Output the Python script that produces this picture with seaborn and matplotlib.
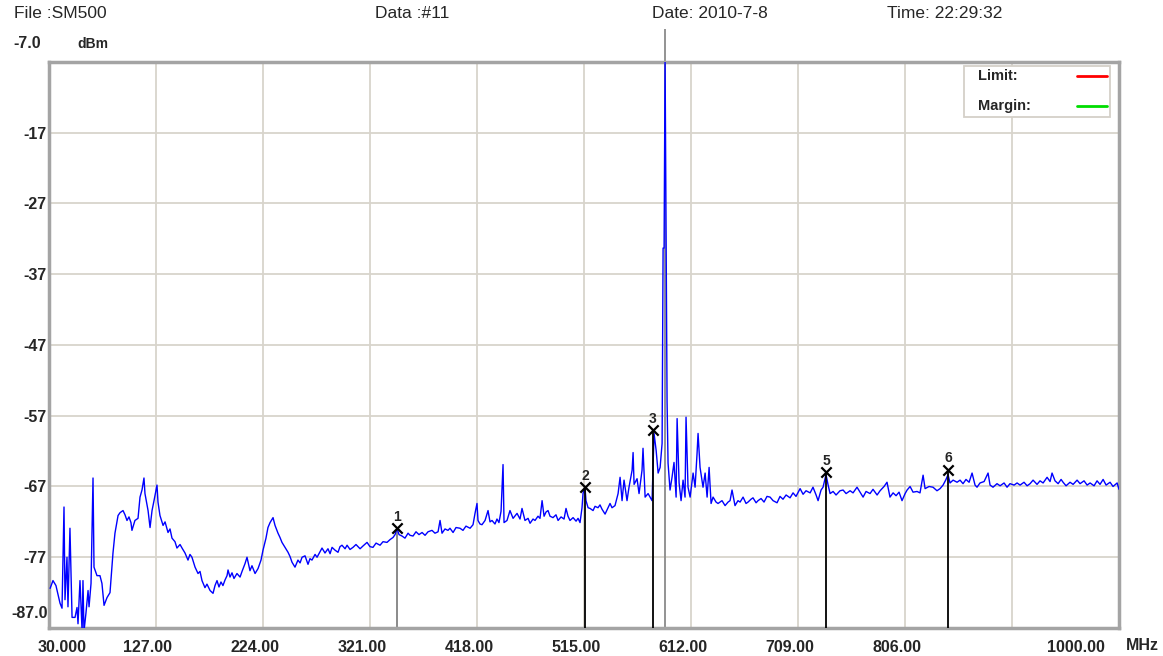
import matplotlib
matplotlib.use("Agg")
import matplotlib.pyplot as plt
import matplotlib.transforms as mtransforms
from matplotlib.lines import Line2D
from matplotlib.patches import Rectangle
import seaborn as sns
import pandas as pd

# spectrum trace (MHz, dBm)
freq_mhz = [
    31.0, 33.6, 36.3, 40.0, 41.8, 42.7, 43.6, 44.5, 46.3, 47.2, 49.0, 50.9, 53.6, 55.4, 56.3, 58.1,
    60.0, 60.8, 61.7, 63.5, 65.4, 66.3, 68.1, 69.0, 69.9, 70.8, 73.5, 76.2, 78.0, 79.9, 82.6, 85.3,
    87.1, 88.0, 89.8, 92.6, 94.4, 97.1, 98.9, 100.7, 102.5, 104.3, 105.2, 107.9, 110.7, 112.5, 114.3,
    116.1, 117.0, 119.8, 121.6, 123.4, 125.2, 127.9, 128.8, 130.6,
    133.4, 135.2, 137.9, 139.7, 141.5, 144.2, 146.0, 148.8, 150.6, 153.3, 156.0, 157.8, 159.6, 162.4,
    165.1, 166.9, 168.7, 171.4, 173.2, 176.0, 178.7, 180.5, 182.3, 184.1, 185.9, 187.7, 189.6, 191.4,
    192.3, 194.1, 195.9, 197.7, 200.4, 203.2, 205.0, 207.7, 209.5, 212.2, 214.0, 216.8, 219.5, 222.2,
    224.0, 226.7, 228.5, 230.4, 233.1, 234.9, 237.6, 239.4, 241.2, 244.0, 246.7, 248.5, 250.3, 253.0,
    255.7, 257.6, 259.4, 262.1, 264.8, 266.6, 268.4, 271.2, 273.0, 275.7, 277.5, 280.2, 282.9, 284.8,
    286.6, 289.3, 292.0, 293.8, 295.6, 298.4,
    300.2, 302.9, 305.6, 308.3, 312.0, 314.7, 318.3, 321.0, 323.7, 326.5, 330.1, 332.8, 336.4, 339.2,
    341.9, 343.7, 345.5, 347.3, 350.0, 352.7, 355.5, 357.3, 360.0, 362.7, 365.4, 368.2, 370.9, 373.6,
    377.2, 379.9, 382.7, 384.5, 386.3, 389.0, 391.7, 393.5, 396.3, 399.0, 402.6, 405.3, 408.0, 411.7,
    414.4, 416.2, 418.0, 418.9, 420.7, 422.5, 425.3, 428.0, 429.8, 431.6, 434.3, 436.1, 437.9, 439.8,
    441.6, 442.5, 445.2, 447.9, 450.7, 454.3, 457.0, 458.8, 461.5, 464.3, 466.1, 468.8, 470.6, 473.3,
    475.1, 477.0, 478.8, 480.6, 482.4, 484.2, 486.9, 489.6, 491.5, 494.2, 496.9, 498.7, 500.5, 502.3,
    505.1, 507.8, 509.6, 511.4, 513.2, 514.1, 515.9, 516.8, 518.7, 520.5, 523.2, 525.0, 527.7, 529.5,
    531.3, 534.1, 536.8, 538.6, 540.4, 543.1, 545.9, 547.7, 549.5, 551.3, 554.0, 555.8, 558.6, 559.5,
    560.4, 563.1, 564.9, 567.6, 568.5, 570.4, 573.1, 574.9, 576.7, 577.6, 578.5, 580.4, 582.2, 584.0,
    585.8, 586.7, 587.6, 588.5, 589.4, 590.3, 591.2, 593.0, 594.8, 596.6, 598.5, 599.4, 601.2, 603.0,
    604.8, 606.6, 607.5, 609.3, 611.2, 613.9, 615.7, 617.5, 618.4, 620.2, 622.9, 624.8, 626.6, 628.4,
    630.2, 632.0, 634.7, 636.5, 640.1, 642.9, 645.6, 647.4, 649.2, 651.9, 654.6, 656.5, 659.2, 661.9,
    663.7, 666.4, 668.2, 671.0, 672.8, 675.5, 678.2, 680.9, 683.7, 686.4, 690.0, 692.7, 695.4, 698.2,
    701.8, 704.5, 707.2, 710.9, 713.6, 716.3, 720.0, 722.6, 725.4, 727.2, 729.9, 731.7, 734.4, 736.3,
    738.1, 740.8, 743.5, 747.1, 749.9, 752.6, 756.2, 758.9, 762.5, 765.3, 768.0, 770.7, 774.3, 777.0,
    780.7, 783.4, 787.0, 789.7, 792.4, 795.2, 797.9, 800.6, 803.3, 806.1, 807.9, 810.6, 813.3, 816.9,
    819.6, 822.4, 824.2, 827.8, 831.4, 835.0, 837.8, 840.5, 843.2, 845.0, 846.8, 849.6, 853.2, 855.9,
    858.6, 861.3, 864.1, 866.8, 869.5, 871.3, 874.0, 877.7, 881.3, 883.1, 885.8, 889.4, 892.2, 895.8,
    898.5, 901.2, 904.9, 907.6, 910.3, 913.9, 916.7, 919.4, 922.1, 925.7, 928.4, 931.2, 934.8, 937.5,
    939.3, 942.0, 944.8, 947.5, 949.3, 952.0, 955.6, 958.4, 962.0, 964.7, 968.3, 971.1, 973.8, 977.4,
    980.1, 982.8, 985.6, 988.3, 991.9, 994.6, 998.3, 1000.0,
]
level_dbm = [
    -81.4, -80.3, -81.0, -83.5, -84.2, -76.7, -69.9, -83.0, -77.0, -84.0, -72.9, -85.5, -85.5, -84.1, -86.4, -80.3,
    -87.5, -80.3, -87.5, -84.9, -81.7, -84.0, -80.7, -73.5, -65.8, -78.4, -79.6, -79.6, -80.7, -83.8, -82.7, -82.0,
    -78.4, -76.4, -73.6, -71.1, -70.7, -70.4, -71.0, -71.8, -71.3, -72.1, -73.2, -71.8, -71.5, -68.5, -67.5,
    -65.8, -68.0, -70.4, -72.8, -70.4, -69.0, -66.8, -69.2, -71.1,
    -72.5, -72.0, -73.5, -73.0, -74.3, -74.8, -75.7, -75.2, -75.7, -76.4, -77.4, -76.6, -77.0, -78.4,
    -79.3, -79.0, -80.3, -81.3, -80.8, -81.7, -82.1, -81.0, -80.3, -81.2, -80.5, -81.0, -80.2, -79.6,
    -78.8, -79.8, -79.2, -80.0, -79.3, -79.8, -79.0, -77.9, -77.0, -78.9, -78.2, -79.3, -78.6, -77.4,
    -76.0, -74.3, -72.8, -72.1, -71.4, -72.5, -73.6, -74.2, -74.9, -75.6, -76.3, -76.9, -77.7, -78.4,
    -77.4, -77.8, -77.0, -76.8, -78.0, -77.2, -77.4, -76.6, -77.0, -76.2, -75.7, -76.4, -75.8, -76.5,
    -75.6, -76.0, -76.3, -75.5, -75.3, -75.8,
    -75.3, -75.9, -75.6, -75.2, -75.8, -75.4, -74.9, -75.5, -75.6, -75.0, -75.3, -74.8, -74.9, -74.5,
    -74.2, -73.8, -72.9, -73.8, -74.0, -74.3, -73.6, -73.9, -74.0, -73.4, -73.8, -73.5, -73.9, -73.4,
    -73.2, -73.6, -73.4, -71.8, -73.6, -73.0, -73.2, -72.9, -73.5, -72.8, -72.9, -73.2, -72.6, -72.9,
    -72.4, -70.8, -69.4, -71.8, -72.3, -72.4, -71.8, -70.4, -72.0, -71.8, -72.3, -71.6, -72.1, -70.5,
    -63.9, -72.1, -71.8, -70.4, -71.5, -70.8, -71.6, -70.1, -71.8, -71.5, -72.2, -71.6, -71.8, -71.2,
    -71.5, -69.0, -71.2, -70.6, -70.4, -71.2, -71.4, -71.0, -71.8, -71.3, -71.6, -70.1, -71.2, -71.8,
    -71.4, -71.9, -71.5, -72.1, -70.0, -68.0, -67.1, -69.0, -70.0, -70.1, -70.4, -69.8, -70.0, -69.6,
    -70.2, -70.9, -70.0, -69.4, -70.0, -69.7, -68.0, -65.7, -69.0, -66.1, -69.0, -67.1, -64.7, -62.2,
    -66.7, -65.9, -68.0, -64.7, -61.6, -68.5, -68.0, -68.5, -69.0, -64.3, -59.5, -61.9, -65.1, -64.3,
    -60.9, -33.3, -33.3, -6.5, -30.3, -55.0, -63.7, -67.5, -65.7, -63.6, -68.5, -57.4, -66.5, -69.0,
    -66.1, -68.5, -57.2, -67.1, -68.5, -65.1, -67.1, -62.3, -59.5, -64.3, -67.1, -65.1, -68.5, -64.3,
    -69.4, -68.5, -69.2, -69.4, -69.0, -69.7, -69.2, -69.0, -67.5, -69.7, -69.0, -69.2, -68.5, -69.4,
    -69.2, -68.8, -68.6, -69.3, -69.0, -68.7, -69.2, -68.4, -68.5, -69.0, -69.3, -68.4, -68.8, -68.2,
    -68.6, -67.9, -68.4, -67.3, -68.1, -67.6, -67.9, -67.1, -68.2, -69.0, -67.5, -67.1, -65.3, -66.8,
    -68.0, -67.7, -68.2, -67.6, -67.5, -68.0, -67.6, -67.9, -67.1, -67.8, -68.5, -67.7, -68.0, -67.4,
    -68.2, -67.6, -67.0, -66.4, -68.5, -67.9, -68.3, -67.8, -69.0, -68.0, -67.5, -67.0, -67.8, -67.7,
    -67.9, -65.4, -67.3, -67.0, -67.1, -67.6, -67.3, -66.8, -66.0, -65.3, -66.5, -66.1, -66.4, -66.1,
    -66.6, -66.0, -66.4, -65.1, -66.8, -67.1, -66.5, -66.3, -65.1, -66.8, -67.1, -66.6, -66.9, -66.5,
    -67.1, -66.6, -66.8, -66.5, -66.8, -66.4, -66.9, -66.6, -66.1, -66.7, -66.2, -66.5, -65.7, -66.3,
    -65.1, -66.2, -66.6, -66.0, -66.4, -66.9, -66.4, -66.7, -66.1, -66.6, -66.2, -66.8, -66.5, -66.9,
    -66.2, -66.7, -66.0, -66.8, -66.4, -67.0, -66.5, -67.4,
]

marker_ids = ["1", "2", "3", "5", "6"]
marker_freq = [345.5, 515.9, 577.6, 734.4, 845.0]
marker_level = [-72.9, -67.1, -59.0, -65.0, -64.6]
peak_marker_freq = 588.5

x_ticks = [30, 127, 224, 321, 418, 515, 612, 709, 806, 903, 1000]
x_tick_labels = ["30.000", "127.00", "224.00", "321.00", "418.00", "515.00",
                 "612.00", "709.00", "806.00", "", "1000.00"]
y_ticks = [-17, -27, -37, -47, -57, -67, -77]
y_tick_labels = ["-17", "-27", "-37", "-47", "-57", "-67", "-77"]
header = ["File :SM500", "Data :#11", "Date: 2010-7-8", "Time: 22:29:32"]
header_x = [14, 375, 652, 887]

sns.set_theme(style="white")
plt.rcParams["font.family"] = ["Liberation Sans", "DejaVu Sans"]

W, H = 1163, 656
fig = plt.figure(figsize=(W / 100, H / 100), dpi=100)
ax = fig.add_axes([49 / W, 28 / H, 1070 / W, 566 / H])


def fx(px):
    return px / W


def fy(py):
    return 1 - py / H


df = pd.DataFrame({"freq": freq_mhz, "level": level_dbm})

# marker 4 sits on the carrier peak, its line runs above the frame
ax.vlines(peak_marker_freq, -87, -2.4, color="#8a8a8a", lw=1.3, zorder=2, clip_on=False)
ax.vlines(marker_freq[0], -87, marker_level[0], color="#777777", lw=1.2, zorder=2)

sns.lineplot(data=df, x="freq", y="level", ax=ax, color="#0000ff", lw=1.0,
             estimator=None, sort=False, zorder=3)

ax.vlines(marker_freq[1:], -87, marker_level[1:], color="black", lw=1.3, zorder=4)
sns.scatterplot(x=marker_freq, y=marker_level, ax=ax, marker="x", color="black",
                s=55, linewidth=1.6, zorder=5)
for mid, mf, ml in zip(marker_ids, marker_freq, marker_level):
    ax.annotate(mid, (mf, ml), xytext=(0, 8), textcoords="offset points",
                ha="center", va="center", fontsize=10, fontweight="bold", zorder=6)

ax.set_xlim(30, 1000)
ax.set_ylim(-87, -7)
ax.set_xticks(x_ticks)
ax.set_xticklabels(x_tick_labels, fontsize=11.5, fontweight="bold")
ax.set_yticks(y_ticks)
ax.set_yticklabels(y_tick_labels, fontsize=11.5, fontweight="bold")
ax.tick_params(length=0, pad=2)
ax.tick_params(axis="x", pad=9)
ax.set_xlabel("")
ax.set_ylabel("")
ax.grid(True, color="#d8d4cc", lw=1.3)
ax.set_axisbelow(True)
for s in ax.spines.values():
    s.set_color("#a4a4a4")
    s.set_linewidth(2.5)

# shift x labels the way the analyser prints them
for i, lab in enumerate(ax.get_xticklabels()):
    dx = -8
    if i == 0:
        dx = 13
    elif i == len(x_ticks) - 1:
        dx = -43
    lab.set_transform(lab.get_transform() + mtransforms.ScaledTranslation(dx / 100, 0, fig.dpi_scale_trans))

fig.text(fx(41), fy(44), "-7.0", ha="right", va="center", fontsize=11.5, fontweight="bold")
fig.text(fx(48), fy(614), "-87.0", ha="right", va="center", fontsize=11.5, fontweight="bold")
fig.text(fx(77), fy(44), "dBm", ha="left", va="center", fontsize=10, fontweight="bold")
fig.text(fx(1126), fy(645), "MHz", ha="left", va="center", fontsize=11.5, fontweight="bold")

for t, x in zip(header, header_x):
    fig.text(fx(x), fy(14), t, ha="left", va="center", fontsize=12.5)

# legend box
fig.patches.append(Rectangle((fx(964), fy(117)), (1110 - 964) / W, (117 - 66) / H,
                             transform=fig.transFigure, facecolor="white",
                             edgecolor="#d4d0c8", lw=1.3, zorder=10))
fig.text(fx(978), fy(76), "Limit:", ha="left", va="center", fontsize=10.5, fontweight="bold", zorder=11)
fig.text(fx(978), fy(106), "Margin:", ha="left", va="center", fontsize=10.5, fontweight="bold", zorder=11)
fig.lines.append(Line2D([fx(1077), fx(1107)], [fy(76), fy(76)], transform=fig.transFigure,
                        color="#ff0000", lw=2, zorder=11))
fig.lines.append(Line2D([fx(1077), fx(1107)], [fy(106), fy(106)], transform=fig.transFigure,
                        color="#00dd00", lw=2, zorder=11))

fig.savefig("out.png", dpi=100)
